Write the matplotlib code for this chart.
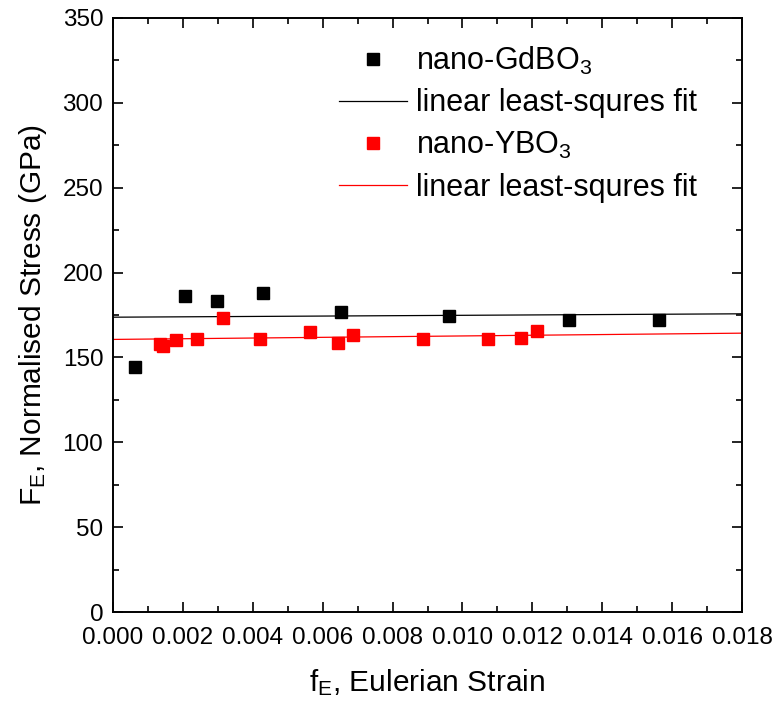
import matplotlib
matplotlib.use('Agg')
import matplotlib.pyplot as plt
from matplotlib.ticker import MultipleLocator, FormatStrFormatter

plt.rcParams['font.family'] = ['Liberation Sans', 'DejaVu Sans']
plt.rcParams['mathtext.default'] = 'regular'

# nano-GdBO3 (black)
gd_strain = [0.00063, 0.00206, 0.00298, 0.00428, 0.00652, 0.00962, 0.01304, 0.01562]
gd_stress = [144.3, 186.0, 183.0, 188.2, 177.0, 174.3, 172.2, 171.8]
gd_fit = (173.7, 111.0)   # intercept, slope

# nano-YBO3 (red)
y_strain = [0.00134, 0.00144, 0.00179, 0.00240, 0.00316, 0.00421, 0.00564,
            0.00645, 0.00686, 0.00888, 0.01074, 0.01167, 0.01212]
y_stress = [158.0, 156.5, 160.0, 160.6, 173.0, 161.0, 165.0,
            158.6, 163.0, 160.6, 161.0, 161.4, 165.3]
y_fit = (160.6, 205.0)

fit_x = [0.0, 0.018]

fig = plt.figure(figsize=(7.77, 7.02), dpi=100)
ax = fig.add_axes([0.1454, 0.1282, 0.8096, 0.8462])

ax.plot(gd_strain, gd_stress, 's', color='black', ms=9.2, label='nano-GdBO$_3$')
ax.plot(fit_x, [gd_fit[0] + gd_fit[1] * x for x in fit_x], '-', color='black', lw=0.9,
        label='linear least-squres fit')
ax.plot(y_strain, y_stress, 's', color='red', ms=9.2, label='nano-YBO$_3$')
ax.plot(fit_x, [y_fit[0] + y_fit[1] * x for x in fit_x], '-', color='red', lw=0.9,
        label='linear least-squres fit')

ax.set_xlim(0, 0.018)
ax.set_ylim(0, 350)
ax.xaxis.set_major_locator(MultipleLocator(0.002))
ax.xaxis.set_minor_locator(MultipleLocator(0.001))
ax.xaxis.set_major_formatter(FormatStrFormatter('%.3f'))
ax.yaxis.set_major_locator(MultipleLocator(50))
ax.yaxis.set_minor_locator(MultipleLocator(25))

ax.tick_params(which='both', direction='in', top=True, right=True, width=1.2,
               labelsize=17.5)
ax.tick_params(which='major', length=7)
ax.tick_params(which='minor', length=4)
ax.tick_params(axis='x', pad=11)
ax.tick_params(axis='y', pad=7)
for s in ax.spines.values():
    s.set_linewidth(1.4)

ax.set_xlabel('f$_E$, Eulerian Strain', fontsize=21.5, labelpad=13)
ax.set_ylabel('F$_E$, Normalised Stress (GPa)', fontsize=21.5, labelpad=10)

ax.legend(loc='upper left', bbox_to_anchor=(0.36, 0.955), frameon=False,
          fontsize=22, handlelength=2.2, handletextpad=0.3, labelspacing=0.38,
          borderpad=0, borderaxespad=0)

fig.savefig('out.png', dpi=100)
